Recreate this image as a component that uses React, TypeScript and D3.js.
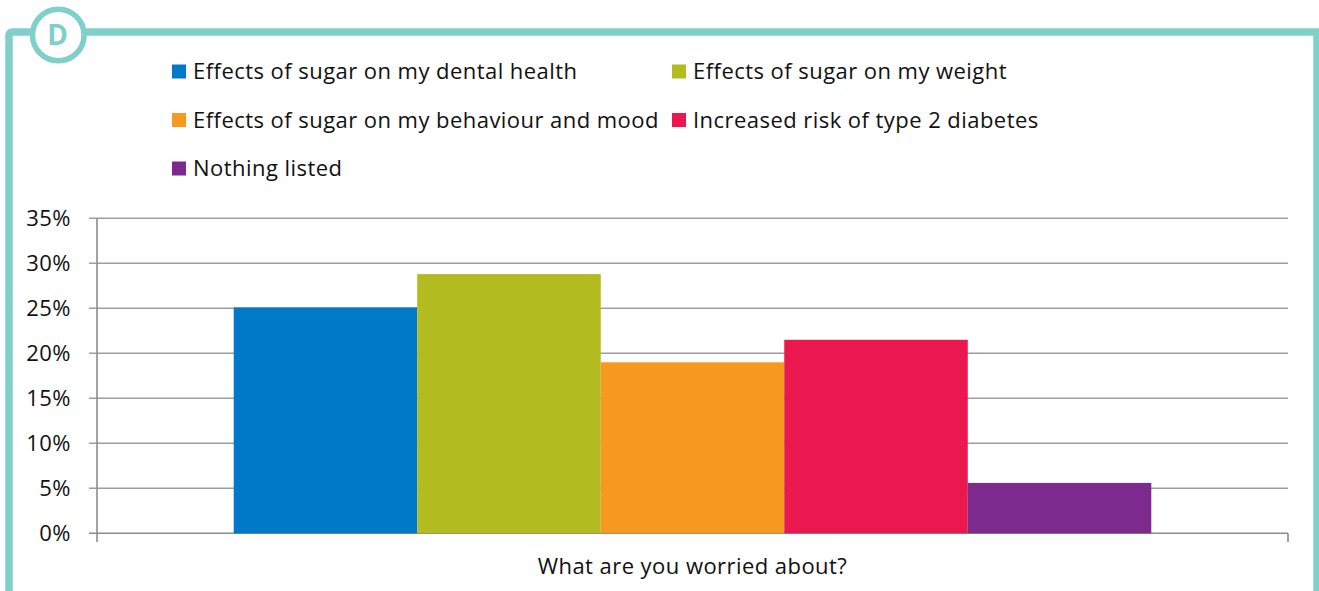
import React from "react";
import * as d3 from "d3";

const categories = ["What are you worried about?"];
const seriesNames = [
  "Effects of sugar on my dental health",
  "Effects of sugar on my weight",
  "Effects of sugar on my behaviour and mood",
  "Increased risk of type 2 diabetes",
  "Nothing listed",
];
const seriesValues = [25.1, 28.8, 19.0, 21.5, 5.6];
const seriesColors = ["#0079C9", "#B2BB1F", "#F7981F", "#EB184F", "#7C2A8E"];
const yTicks = [0, 5, 10, 15, 20, 25, 30, 35];

const W = 1319;
const H = 591;
const TEAL = "#80CFCB";
const FONT = "'Open Sans', 'Noto Sans', sans-serif";
const FS = 22;
const LS = 0.45;

export default function App() {
  const left = 97;
  const right = 1288;
  const top = 218.3;
  const bottom = 533.3;

  const y = d3.scaleLinear().domain([0, 35]).range([bottom, top]);
  const x0 = d3.scaleBand<string>().domain(categories).range([left, right]).paddingInner(0).paddingOuter(0.149);
  const x1 = d3.scaleBand<string>().domain(seriesNames).range([0, x0.bandwidth()]).padding(0);

  const legendCols = [172, 672];
  const legendRows = [79, 127.5, 176];

  return (
    <svg
      width={W}
      height={H}
      viewBox={`0 0 ${W} ${H}`}
      style={{ position: "absolute", left: 0, top: 0, background: "#fff" }}
      fontFamily={FONT}
    >
      {/* frame */}
      <path
        d={`M9,${H + 10} L9,36 Q9,32 13,32 L1317,32 L1317,${H + 10}`}
        fill="none"
        stroke={TEAL}
        strokeWidth={7.5}
      />
      <circle cx={58.3} cy={35} r={25.8} fill="#fff" stroke={TEAL} strokeWidth={5.5} />
      <text x={57.5} y={45} textAnchor="middle" fontSize={28} fontWeight="bold" fill={TEAL}>
        D
      </text>

      {/* legend */}
      {seriesNames.map((name, i) => {
        const cx = legendCols[i % 2];
        const by = legendRows[Math.floor(i / 2)];
        return (
          <g key={name}>
            <rect x={cx} y={by - 14.5} width={14} height={14} fill={seriesColors[i]} />
            <text x={cx + 21} y={by} fontSize={FS} letterSpacing={LS} fill="#111">
              {name}
            </text>
          </g>
        );
      })}

      {/* gridlines and y ticks */}
      {yTicks.map((t) => (
        <g key={t}>
          <line x1={89} x2={right} y1={y(t)} y2={y(t)} stroke={t === 0 ? "#8c8c8c" : "#9e9e9e"} strokeWidth={1.6} />
          <text x={71} y={y(t) + 7.5} textAnchor="end" fontSize={FS} letterSpacing={LS} fill="#111">
            {t}%
          </text>
        </g>
      ))}
      {/* axis lines */}
      <line x1={left} x2={left} y1={top} y2={542} stroke="#8c8c8c" strokeWidth={1.6} />
      <line x1={right} x2={right} y1={bottom} y2={542} stroke="#8c8c8c" strokeWidth={1.6} />

      {/* bars */}
      {categories.map((c) => (
        <g key={c} transform={`translate(${x0(c)},0)`}>
          {seriesNames.map((s, i) => (
            <rect
              key={s}
              x={x1(s)}
              y={y(seriesValues[i])}
              width={x1.bandwidth()}
              height={bottom - y(seriesValues[i])}
              fill={seriesColors[i]}
            />
          ))}
        </g>
      ))}

      {/* x category label */}
      {categories.map((c) => (
        <text key={c} x={(x0(c) as number) + x0.bandwidth() / 2} y={574} textAnchor="middle" fontSize={FS} letterSpacing={LS} fill="#111">
          {c}
        </text>
      ))}
    </svg>
  );
}
